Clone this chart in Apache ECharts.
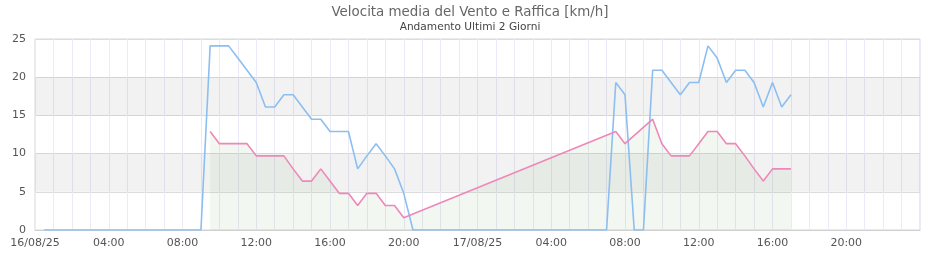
<!DOCTYPE html>
<html>
<head>
<meta charset="utf-8">
<script src="https://cdn.jsdelivr.net/npm/echarts@6/dist/echarts.min.js"></script>
<style>html,body{margin:0;padding:0;background:#fff}#c{width:940px;height:260px}</style>
</head>
<body>
<div id="c"></div>
<script>
// ---- Data ----
var gustTimes = ['16/08 00:30','16/08 09:00','16/08 09:30','16/08 10:00','16/08 10:30','16/08 11:00','16/08 11:30','16/08 12:00','16/08 12:30','16/08 13:00','16/08 13:30','16/08 14:00','16/08 14:30','16/08 15:00','16/08 15:30','16/08 16:00','16/08 16:30','16/08 17:00','16/08 17:30','16/08 18:00','16/08 18:30','16/08 19:00','16/08 19:30','16/08 20:00','16/08 20:30','17/08 07:00','17/08 07:30','17/08 08:00','17/08 08:30','17/08 09:00','17/08 09:30','17/08 10:00','17/08 10:30','17/08 11:00','17/08 11:30','17/08 12:00','17/08 12:30','17/08 13:00','17/08 13:30','17/08 14:00','17/08 14:30','17/08 15:00','17/08 15:30','17/08 16:00','17/08 16:30','17/08 17:00'];
var gustValues = [0,0,24.1,24.1,24.1,22.5,20.9,19.3,16.1,16.1,17.7,17.7,16.1,14.5,14.5,12.9,12.9,12.9,8.0,9.7,11.3,9.7,8.0,4.8,0,0,19.3,17.7,0,0,20.9,20.9,19.3,17.7,19.3,19.3,24.1,22.5,19.3,20.9,20.9,19.3,16.1,19.3,16.1,17.7];

var meanTimes = ['16/08 09:30','16/08 10:00','16/08 10:30','16/08 11:00','16/08 11:30','16/08 12:00','16/08 12:30','16/08 13:00','16/08 13:30','16/08 14:00','16/08 14:30','16/08 15:00','16/08 15:30','16/08 16:00','16/08 16:30','16/08 17:00','16/08 17:30','16/08 18:00','16/08 18:30','16/08 19:00','16/08 19:30','16/08 20:00','17/08 07:30','17/08 08:00','17/08 09:30','17/08 10:00','17/08 10:30','17/08 11:00','17/08 11:30','17/08 12:00','17/08 12:30','17/08 13:00','17/08 13:30','17/08 14:00','17/08 14:30','17/08 15:00','17/08 15:30','17/08 16:00','17/08 16:30','17/08 17:00'];
var meanValues = [12.9,11.3,11.3,11.3,11.3,9.7,9.7,9.7,9.7,8.0,6.4,6.4,8.0,6.4,4.8,4.8,3.2,4.8,4.8,3.2,3.2,1.6,12.9,11.3,14.5,11.3,9.7,9.7,9.7,11.3,12.9,12.9,11.3,11.3,9.7,8.0,6.4,8.0,8.0,8.0];

var xTickLabels = ['16/08/25','04:00','08:00','12:00','16:00','20:00','17/08/25','04:00','08:00','12:00','16:00','20:00'];
var yTicks = [0,5,10,15,20,25];
var shadedBands = [[5,10],[15,20]];
var titleText = 'Velocita media del Vento e Raffica [km/h]';
var subtitleText = 'Andamento Ultimi 2 Giorni';

// ---- helpers ----
function toHours(s){
  var p = s.split(' '); var d = parseInt(p[0].split('/')[0],10);
  var hm = p[1].split(':');
  return (d-16)*24 + parseInt(hm[0],10) + parseInt(hm[1],10)/60;
}
function pairs(times, vals){ return times.map(function(t,i){ return [toHours(t), vals[i]]; }); }
var gustData = pairs(gustTimes, gustValues);
var meanData = pairs(meanTimes, meanValues);

var font = 'DejaVu Sans';
var chart = echarts.init(document.getElementById('c'), null, {renderer:'canvas'});
chart.setOption({
  animation: false,
  backgroundColor: '#ffffff',
  textStyle: {fontFamily: font},
  title: {
    text: titleText, subtext: subtitleText, left: 'center', top: 1, itemGap: 3,
    textStyle: {fontFamily: font, fontSize: 13.4, fontWeight: 'normal', color: '#666'},
    subtextStyle: {fontFamily: font, fontSize: 10.6, color: '#444'}
  },
  grid: {left: 35, right: 20, top: 39, bottom: 30, show: true, borderColor: '#d6d6d6', borderWidth: 1, backgroundColor: 'transparent'},
  xAxis: {
    type: 'value', min: 0, max: 48, interval: 1,
    axisLine: {show: true, lineStyle: {color: '#d0d0d0'}},
    axisTick: {show: false},
    splitLine: {show: true, lineStyle: {color: '#eaeaf8', width: 1}},
    axisLabel: {
      color: '#555', fontSize: 11, fontFamily: font, margin: 8, showMaxLabel: false,
      formatter: function(v){ if (v % 4 !== 0) return ''; var i = v/4; return i < xTickLabels.length ? xTickLabels[i] : ''; }
    }
  },
  yAxis: {
    type: 'value', min: yTicks[0], max: yTicks[yTicks.length-1], interval: 5,
    axisLine: {show: false}, axisTick: {show: false},
    splitLine: {show: true, lineStyle: {color: '#dcdcdc', width: 1}},
    axisLabel: {color: '#555', fontSize: 11, fontFamily: font, margin: 9}
  },
  series: [
    {
      name: 'media area', type: 'line', data: meanData, z: 1, silent: true,
      symbol: 'none', lineStyle: {width: 0, opacity: 0},
      areaStyle: {color: 'rgba(110,165,95,0.13)', origin: 'start'}
    },
    {
      name: 'bands', type: 'line', data: meanData, z: 2, silent: true,
      symbol: 'none', lineStyle: {width: 0, opacity: 0},
      markArea: {
        silent: true,
        itemStyle: {color: 'rgba(0,0,0,0.05)', borderWidth: 0},
        data: shadedBands.map(function(b){ return [{yAxis: b[0]}, {yAxis: b[1]}]; })
      }
    },
    {
      name: 'Raffica', type: 'line', data: gustData, z: 3,
      symbol: 'none', lineStyle: {color: '#8cbef0', width: 1.6}
    },
    {
      name: 'Velocita media', type: 'line', data: meanData, z: 4,
      symbol: 'none', lineStyle: {color: '#ee88b8', width: 1.6}
    }
  ]
});
</script>
</body>
</html>
